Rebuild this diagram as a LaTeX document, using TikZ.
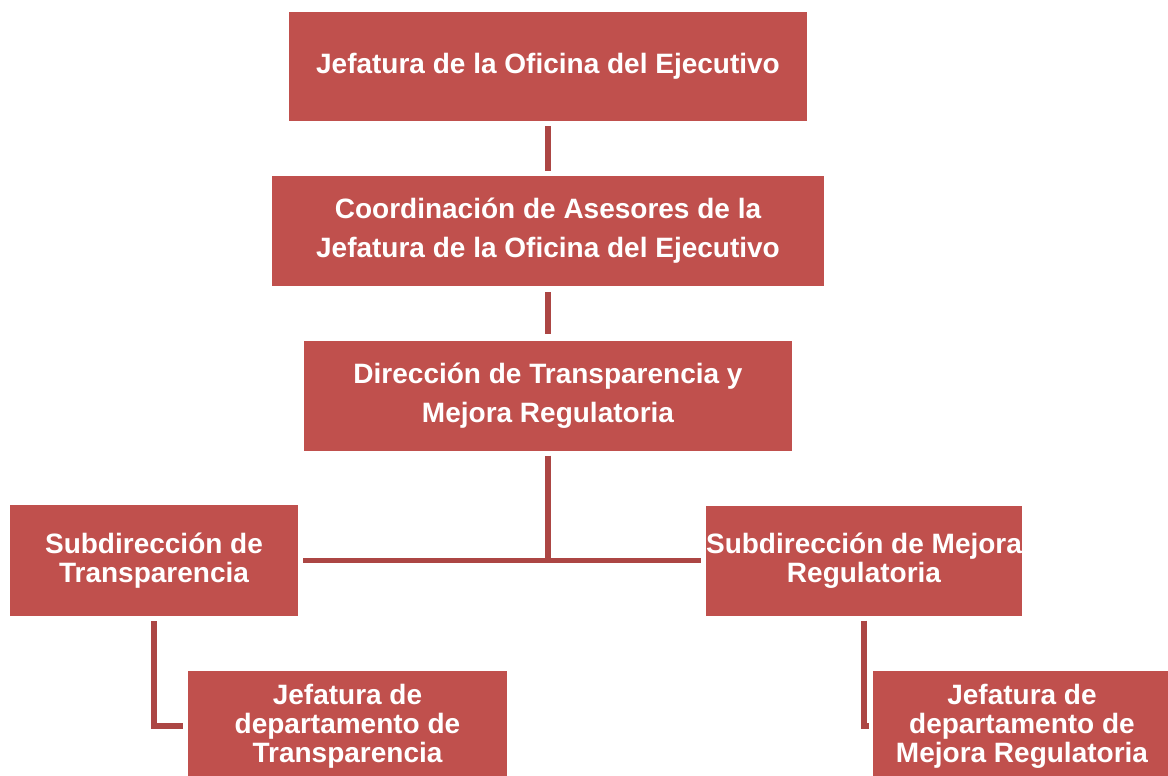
\documentclass[tikz,border=0pt]{standalone}
\usepackage{fontspec}
\setmainfont{Liberation Sans}
\definecolor{boxred}{RGB}{192,80,77}
\definecolor{linered}{RGB}{172,70,68}
\begin{document}
\begin{tikzpicture}[x=1pt,y=-1pt,
  orgbox/.style={fill=boxred, draw=none, text=white, inner sep=0pt, align=center,
    font=\bfseries\fontsize{28}{39}\selectfont},
  tightbox/.style={orgbox, font=\bfseries\fontsize{28}{29}\selectfont},
  conn/.style={draw=linered, line width=5.5pt}
]
\useasboundingbox (0,0) rectangle (1168,776);
\clip (0,0) rectangle (1168,776);
\node[orgbox, minimum width=518pt, minimum height=109pt] (n1) at (548,66.5)
  {Jefatura de la Oficina del Ejecutivo};
\node[orgbox, minimum width=552pt, minimum height=110pt] (n2) at (548,231)
  {Coordinación de Asesores de la\\Jefatura de la Oficina del Ejecutivo};
\node[orgbox, minimum width=488pt, minimum height=110pt] (n3) at (548,395.5)
  {Dirección de Transparencia y\\Mejora Regulatoria};
\node[tightbox, minimum width=288pt, minimum height=111pt] (n4) at (154,560.5)
  {Subdirección de\\Transparencia};
\node[tightbox, minimum width=316pt, minimum height=110pt] (n5) at (864,560.5)
  {Subdirección de Mejora\\Regulatoria};
\node[tightbox, minimum width=319pt, minimum height=110pt] (n6) at (347.5,726)
  {Jefatura de\\departamento de\\Transparencia};
\node[tightbox, minimum width=298pt, minimum height=110pt] (n7) at (1022,726)
  {Jefatura de\\departamento de\\Mejora Regulatoria};
\coordinate (hub) at (548,560);
\draw[conn, shorten <=5pt, shorten >=5pt] (n1.south) -- (n2.north);
\draw[conn, shorten <=6pt, shorten >=6pt] (n2.south) -- (n3.north);
\draw[conn, shorten <=5pt] (n3.south) -- (hub);
\draw[conn, shorten <=5pt, shorten >=5pt] (n4.east) -- (n5.west);
\draw[conn, shorten <=5pt, shorten >=5pt] (n4.south) |- (n6.west);
\draw[conn, shorten <=5pt, shorten >=4pt] (n5.south) |- (n7.west);
\end{tikzpicture}
\end{document}
